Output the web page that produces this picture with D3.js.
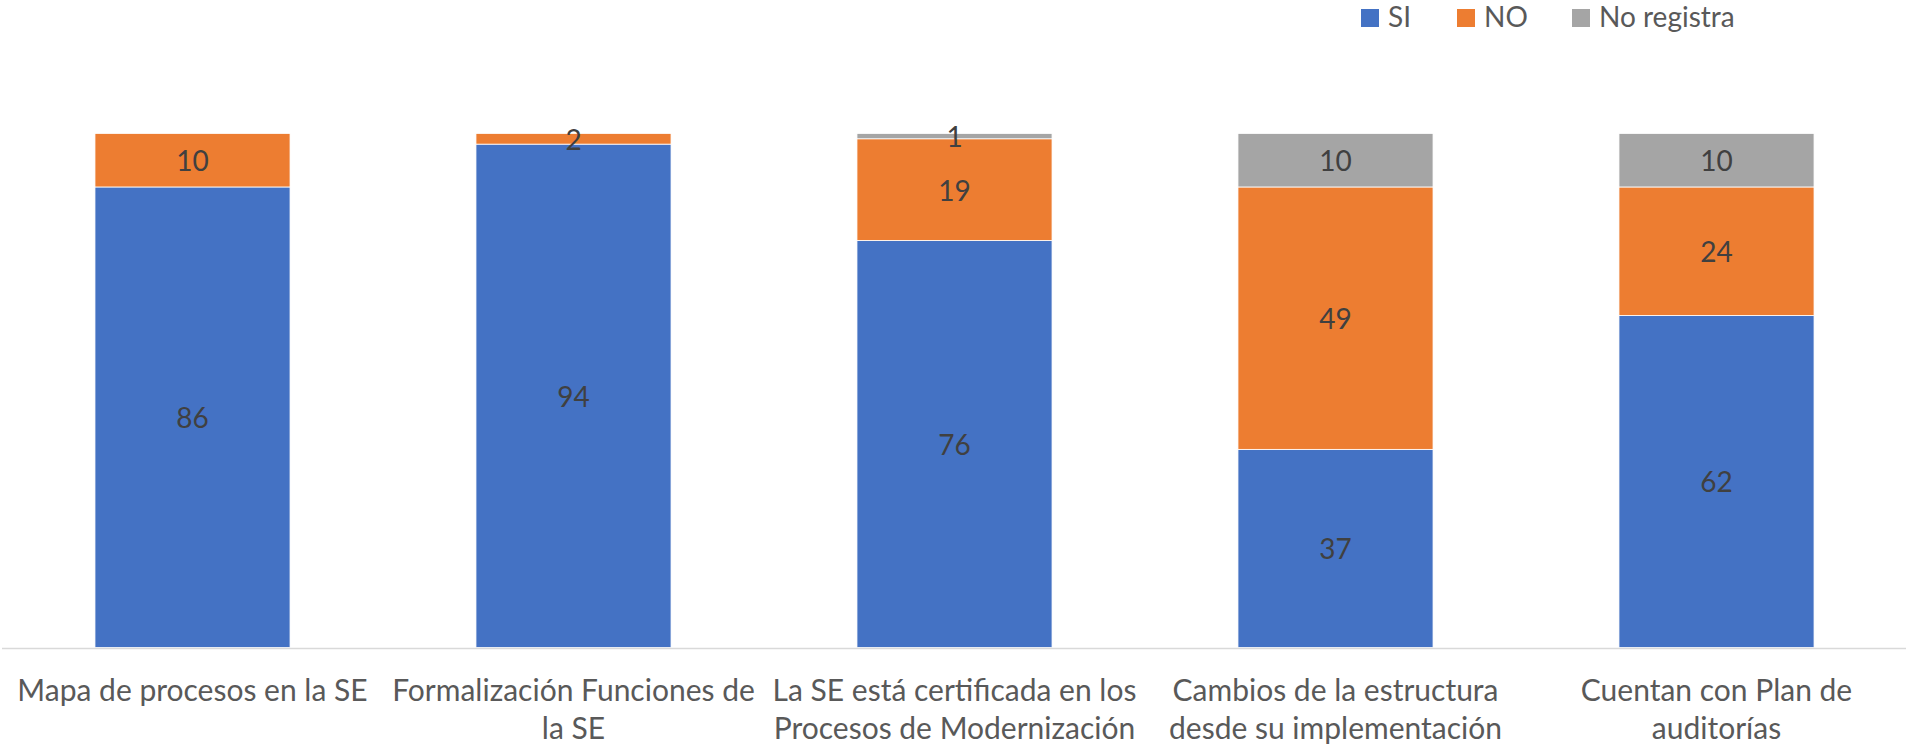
<!DOCTYPE html>
<html lang="es">
	<head>
		<meta charset="utf-8">
		<title>Procesos en la SE</title>
		<script type="text/javascript" src="https://cdn.jsdelivr.net/npm/d3@7"></script>
		<style type="text/css">
			body { margin: 0; background: #fff; }
			text { font-family: Lato, "Open Sans", sans-serif; }
		</style>
	</head>
	<body>
		<script type="text/javascript">
			var w = 1906;
			var h = 746;

			// categorias (salto de linea igual que en el original)
			var categories = [
				"Mapa de procesos en la SE",
				"Formalización Funciones de\nla SE",
				"La SE está certificada en los\nProcesos de Modernización",
				"Cambios de la estructura\ndesde su implementación",
				"Cuentan con Plan de\nauditorías"
			];
			var seriesNames = ["SI", "NO", "No registra"];
			var si = [86, 94, 76, 37, 62];
			var no = [10, 2, 19, 49, 24];
			var noRegistra = [0, 0, 1, 10, 10];
			var colors = ["#4472C4", "#ED7D31", "#A5A5A5"];

			var rows = categories.map(function(c, i) {
				return { cat: c, "SI": si[i], "NO": no[i], "No registra": noRegistra[i] };
			});

			var svg = d3.select("body")
				.append("svg")
				.attr("width", w)
				.attr("height", h);

			var x = d3.scaleBand()
				.domain(categories)
				.range([2, 1907])
				.paddingInner(0.488)
				.paddingOuter(0.244);

			var y = d3.scaleLinear()
				.domain([0, 100])
				.range([647.5, 112]);

			var stack = d3.stack().keys(seriesNames)(rows);

			var groups = svg.selectAll("g.serie")
				.data(stack)
				.enter()
				.append("g")
				.attr("class", "serie")
				.attr("fill", function(d, i) { return colors[i]; });

			groups.selectAll("rect")
				.data(function(d) { return d; })
				.enter()
				.append("rect")
				.attr("x", function(d) { return x(d.data.cat); })
				.attr("y", function(d) { return y(d[1]); })
				.attr("width", x.bandwidth())
				.attr("height", function(d) { return y(d[0]) - y(d[1]); })
				.attr("stroke", "#fff")
				.attr("stroke-width", 0.8);

			// etiquetas de datos
			groups.selectAll("text")
				.data(function(d) { return d.filter(function(p) { return p[1] - p[0] > 0; }); })
				.enter()
				.append("text")
				.text(function(d) { return d[1] - d[0]; })
				.attr("text-anchor", "middle")
				.attr("dominant-baseline", "central")
				.attr("x", function(d) { return x(d.data.cat) + x.bandwidth() / 2; })
				.attr("y", function(d) { return (y(d[0]) + y(d[1])) / 2; })
				.attr("font-size", "28px")
				.attr("fill", "#404040");

			// linea del eje
			svg.append("line")
				.attr("x1", 2)
				.attr("x2", 1906)
				.attr("y1", 648.5)
				.attr("y2", 648.5)
				.attr("stroke", "#D9D9D9")
				.attr("stroke-width", 1.5);

			// etiquetas de categoria
			var labels = svg.selectAll("text.cat")
				.data(categories)
				.enter()
				.append("text")
				.attr("class", "cat")
				.attr("text-anchor", "middle")
				.attr("font-size", "30px")
				.attr("fill", "#595959");

			labels.selectAll("tspan")
				.data(function(d) { return d.split("\n").map(function(t) { return { t: t, c: d }; }); })
				.enter()
				.append("tspan")
				.attr("x", function(d) { return x(d.c) + x.bandwidth() / 2; })
				.attr("y", function(d, i) { return 701 + i * 38; })
				.text(function(d) { return d.t; });

			// leyenda
			var legendX = [1361, 1457, 1572];
			var legend = svg.selectAll("g.legend")
				.data(seriesNames)
				.enter()
				.append("g")
				.attr("class", "legend")
				.attr("transform", function(d, i) { return "translate(" + legendX[i] + ",0)"; });

			legend.append("rect")
				.attr("x", 0)
				.attr("y", 9)
				.attr("width", 18)
				.attr("height", 18)
				.attr("fill", function(d, i) { return colors[i]; });

			legend.append("text")
				.attr("x", 27)
				.attr("y", 27)
				.attr("font-size", "28px")
				.attr("fill", "#595959")
				.text(function(d) { return d; });
		</script>
	</body>
</html>
